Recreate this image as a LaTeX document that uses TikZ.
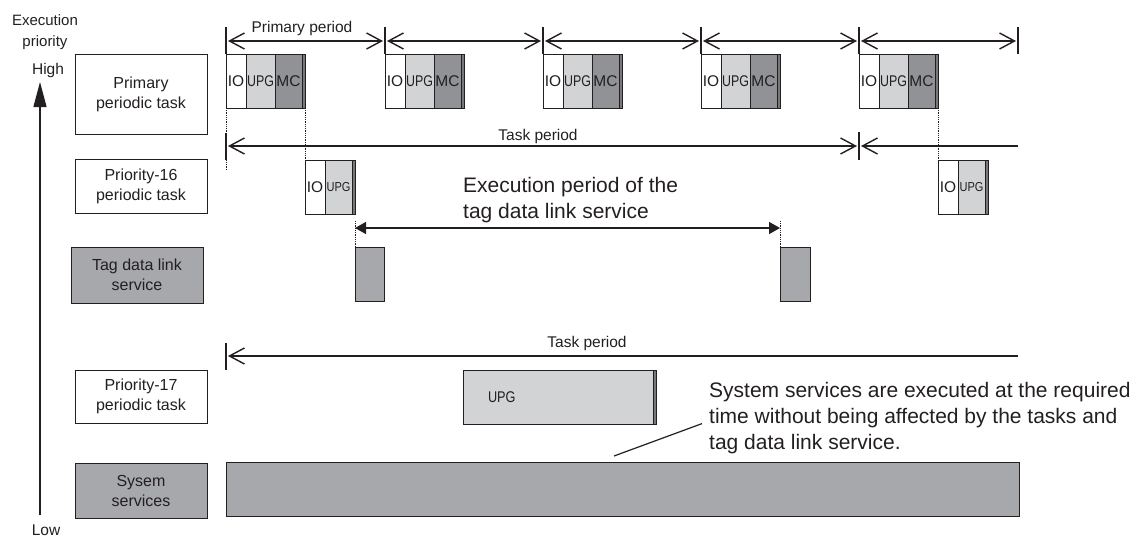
\documentclass[tikz,border=0pt]{standalone}
\usepackage{fontspec}
\setmainfont{Liberation Sans}
\usepackage{graphicx}
\usetikzlibrary{arrows.meta,positioning}
\definecolor{upggray}{RGB}{210,211,213}
\definecolor{mcgray}{RGB}{145,146,150}
\definecolor{svcgray}{RGB}{167,168,172}
\definecolor{stripegray}{RGB}{120,120,124}
\definecolor{inkgray}{RGB}{35,31,32}
\newcommand{\squeeze}[2][0.8]{\scalebox{#1}[1]{#2}}
\tikzset{
  lbl/.style={draw=inkgray, line width=1pt, minimum width=132pt, inner sep=0pt, align=center, text=inkgray, font=\fontsize{16}{20}\selectfont},
  seg/.style={draw=inkgray, line width=1pt, inner sep=0pt, outer sep=0pt, anchor=north west, minimum height=54pt, text=inkgray, font=\fontsize{15.5}{15.5}\selectfont},
  tick/.style={inkgray, line width=1.4pt},
  period/.style={inkgray, line width=1.4pt, shorten <=2pt, shorten >=2pt},
  dots/.style={inkgray, line width=0.8pt, dash pattern=on 0.8pt off 1pt},
  per/.style={text=inkgray, font=\fontsize{15.5}{15.5}\selectfont},
  note/.style={align=left, inner sep=0pt, text=inkgray, font=\fontsize{21}{26}\selectfont}
}

\begin{document}
\begin{tikzpicture}[x=1pt,y=-1pt,>={Straight Barb[length=15pt,width=16pt]}]
\useasboundingbox (0,0) rectangle (1147,541);

% priority axis
\node[per, align=center, font=\fontsize{15}{21}\selectfont] (execprio) at (45,32) {Execution\\priority};
\node[per] (high) at (48,70) {High};
\node[per] (low) at (46,530) {Low};
\coordinate (axbot) at (40,515);
\coordinate (axtop) at (40,82);
\draw[inkgray, line width=1.4pt, -{Triangle[length=25pt,width=13pt]}] (axbot) -- (axtop);

% task labels
\node[lbl, minimum height=80pt] (primlbl) at (141,94) {Primary\\periodic task};
\node[lbl, minimum height=54pt] (p16lbl) at (141,186) {Priority-16\\periodic task};
\node[lbl, fill=svcgray, minimum height=56pt] (taglbl) at (137,275) {Tag data link\\service};
\node[lbl, minimum height=53pt] (p17lbl) at (141,396.5) {Priority-17\\periodic task};
\node[lbl, fill=svcgray, minimum height=55pt] (syslbl) at (141,490.5) {Sysem\\services};

% primary periodic task
\foreach \x [count=\i] in {226,385,543,701,859}{
  \node[seg, minimum width=20pt] (pio\i) at (\x,54) {IO};
  \node[seg, fill=upggray, minimum width=29pt, right=0pt of pio\i] (pupg\i) {\squeeze{UPG}};
  \node[seg, fill=mcgray, minimum width=27pt, right=0pt of pupg\i] (pmc\i) {MC};
  \node[seg, fill=stripegray, minimum width=3pt, right=0pt of pmc\i] (pend\i) {};
}
\foreach \x [count=\i] in {226,385,543,701,859,1018}{
  \coordinate (pp\i) at (\x,41);
  \draw[tick] (\x,27) -- (\x,54);
}
\foreach \a/\b in {1/2,2/3,3/4,4/5,5/6} \draw[period,<->] (pp\a) -- (pp\b);
\node[per] (pplbl) at (302,28) {Primary period};

% task period (primary)
\coordinate (tp1) at (226,146);
\coordinate (tp2) at (859,146);
\coordinate (tp3) at (1018,146);
\draw[tick] (226,133) -- (226,160);
\draw[tick] (859,132) -- (859,160);
\draw[period,<->] (tp1) -- (tp2);
\draw[period,<-,shorten >=0pt] (tp2) -- (tp3);
\node[per] (tplbl1) at (538,136) {Task period};

% priority-16 periodic task
\foreach \x [count=\i] in {305,938}{
  \node[seg, minimum width=20pt] (qio\i) at (\x,160) {IO};
  \node[seg, fill=upggray, minimum width=27pt, font=\fontsize{13}{13}\selectfont, right=0pt of qio\i] (qupg\i) {\squeeze[0.85]{UPG}};
  \node[seg, fill=stripegray, minimum width=3pt, right=0pt of qupg\i] (qend\i) {};
}
\coordinate (d1) at (226,170);
\draw[dots] (pio1.south west) -- (d1);
\draw[dots] (pend1.south east) -- (qio1.north west);
\draw[dots] (pend5.south east) -- (qio2.north west);

% tag data link service
\node[seg, fill=svcgray, minimum width=29pt] (tag1) at (355,247) {};
\node[seg, fill=svcgray, minimum width=30pt] (tag2) at (780,247) {};
\draw[dots] (tag1.north west) -- ++(0,-26);
\draw[dots] (tag2.north west) -- ++(0,-26);
\draw[inkgray, line width=1.4pt, {Triangle[length=11pt,width=12pt]}-{Triangle[length=11pt,width=12pt]}] ([yshift=19pt]tag1.north west) -- ([yshift=19pt]tag2.north west);
\node[note, anchor=west] (exlbl) at (463,200) {Execution period of the\\tag data link service};

% priority-17 periodic task
\coordinate (lt1) at (226,356);
\coordinate (lt2) at (1018,356);
\draw[tick] (226,343) -- (226,370);
\draw[period,<-,shorten >=0pt] (lt1) -- (lt2);
\node[per] (tplbl2) at (587,343) {Task period};
\node[seg, fill=upggray, minimum width=190pt, text width=140pt, align=left] (rupg) at (463,370) {\squeeze[0.82]{UPG}};
\node[seg, fill=stripegray, minimum width=3pt, right=0pt of rupg] (rend) {};

% system services
\node[seg, fill=svcgray, minimum width=793pt] (sysbar) at (226,462) {};
\node[note, anchor=west] (callout) at (709,417.6) {System services are executed at the required\\time without being affected by the tasks and\\tag data link service.};
\coordinate (cfoot) at (614,456);
\draw[inkgray, line width=1.2pt] (cfoot) -- ([xshift=-7pt,yshift=-6pt]callout.west);
\end{tikzpicture}
\end{document}
